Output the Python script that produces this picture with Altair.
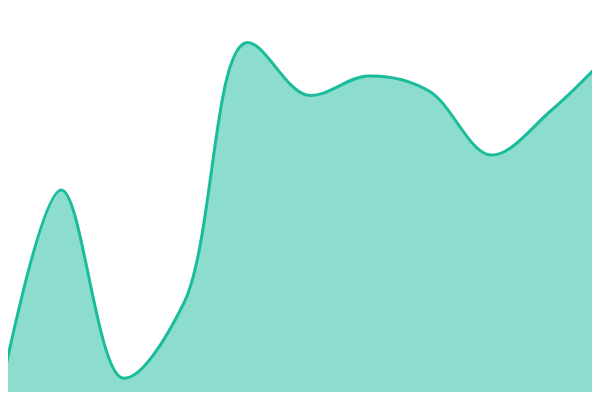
import altair as alt
import pandas as pd

idx = [0, 1, 2, 3, 4, 5, 6, 7, 8, 9, 10]
values = [1.25, 52.5, 5.5, 24.25, 89.25, 76.25, 81, 77.25, 61.25, 72.5, 87.5]

df = pd.DataFrame({"i": idx, "v": values})

step = 61.3
x = alt.X("i:Q", axis=None, scale=alt.Scale(domain=[8 / step, 592 / step], nice=False, zero=False))
y = alt.Y("v:Q", axis=None, scale=alt.Scale(domain=[2, 98], nice=False, zero=False))

area = alt.Chart(df).mark_area(
    interpolate="catmull-rom", color="#1abc9c", opacity=0.5, clip=True
).encode(x=x, y=y)

line = alt.Chart(df).mark_line(
    interpolate="catmull-rom", color="#1abc9c", strokeWidth=3, clip=True
).encode(x=x, y=y)

chart = (area + line).properties(
    width=584, height=384, padding=0, autosize=alt.AutoSizeParams(type="none")
).configure_view(stroke=None)

chart.save("out.html", embed_options={"renderer": "svg", "actions": False})
